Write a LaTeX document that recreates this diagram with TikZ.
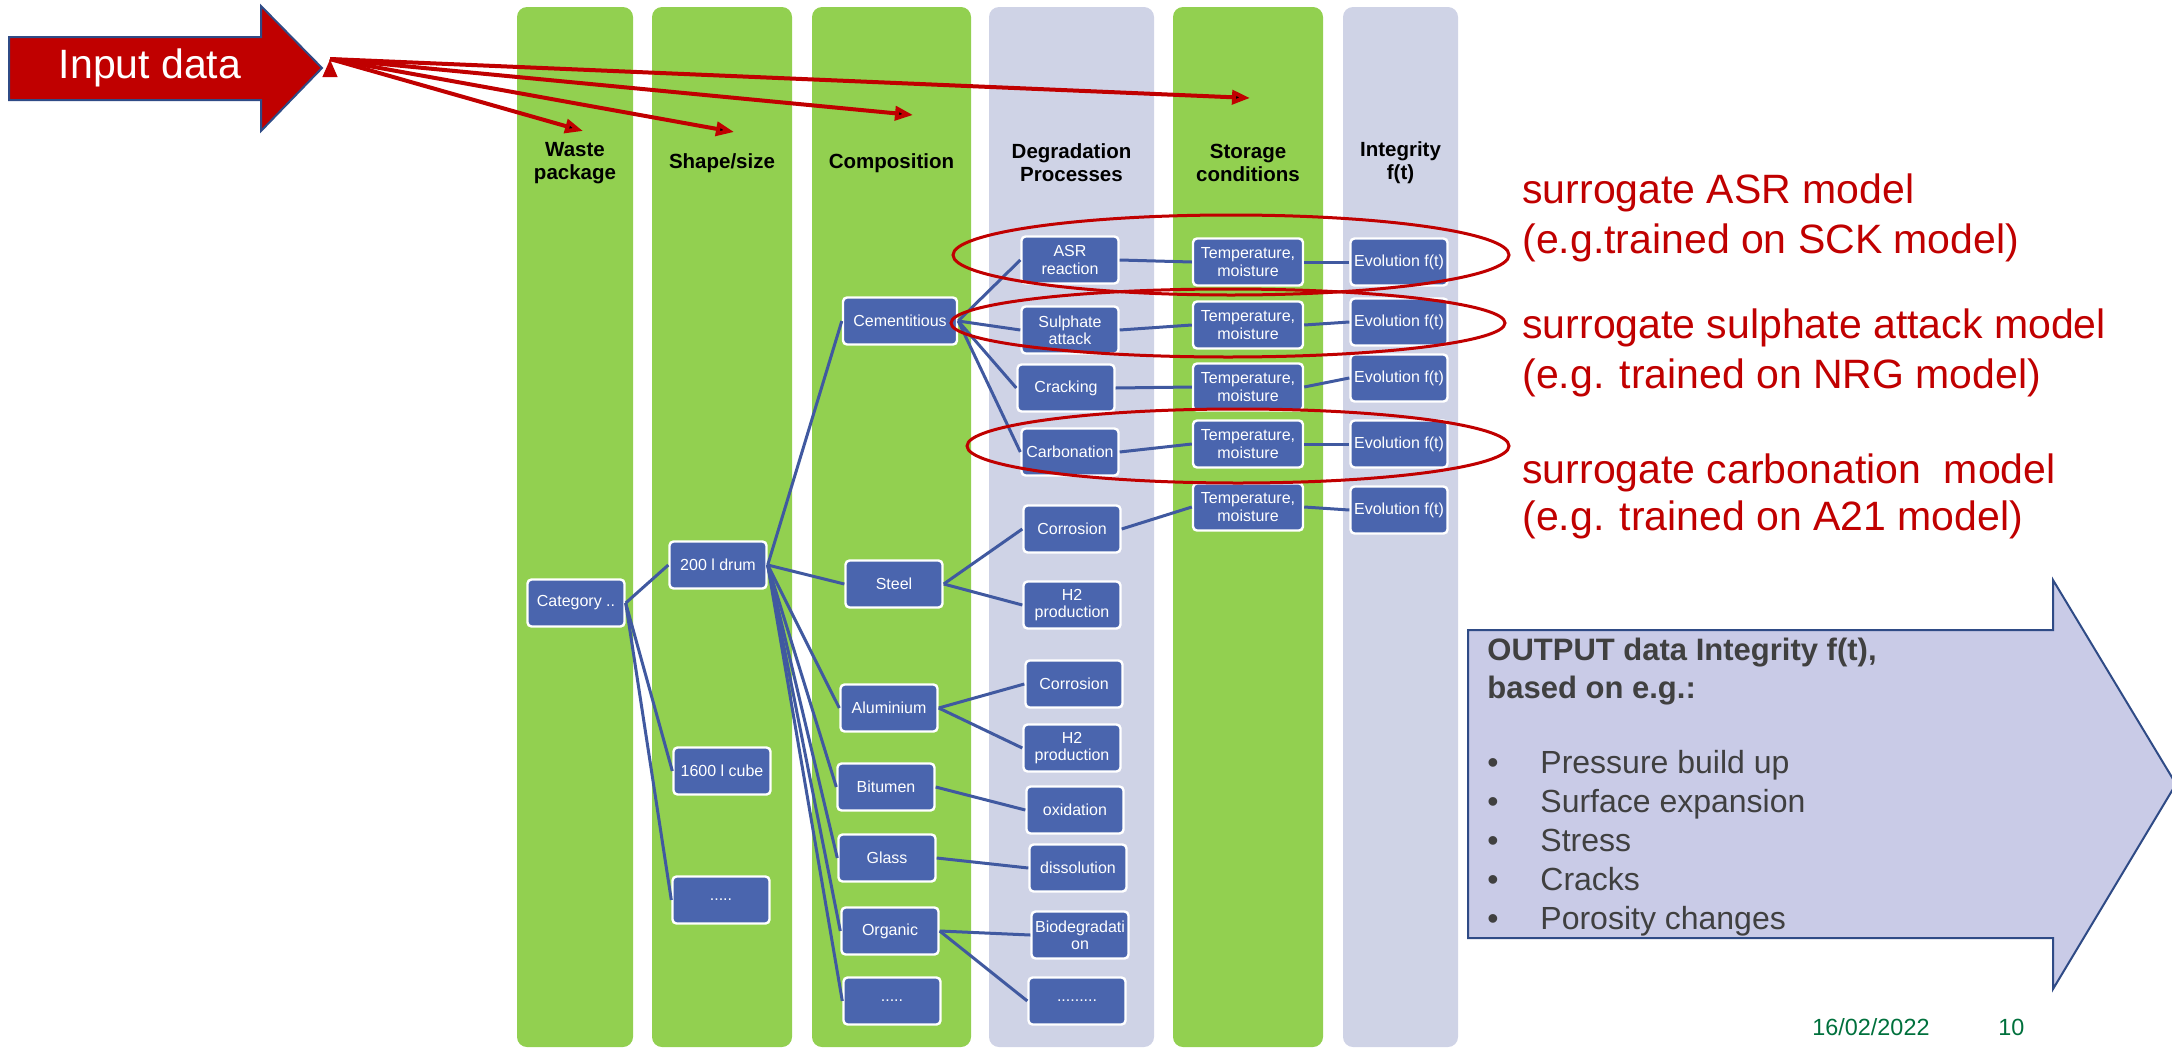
\documentclass[tikz,border=0pt]{standalone}
\usepackage{fontspec}
\setmainfont{Liberation Sans}
\usepackage{xcolor}
\usetikzlibrary{arrows.meta}

\definecolor{colgreen}{HTML}{92D050}
\definecolor{collav}{HTML}{CFD3E6}
\definecolor{boxblue}{HTML}{4A65AE}
\definecolor{linkblue}{HTML}{4059A0}
\definecolor{ringred}{HTML}{C00000}
\definecolor{outfill}{HTML}{C9CBE7}
\definecolor{arrowedge}{HTML}{2F4B86}
\definecolor{txtgrey}{HTML}{404040}
\definecolor{dategreen}{HTML}{00703C}

\begin{document}
\begin{tikzpicture}[x=0.5pt,y=-0.5pt,
  procbox/.style={draw=white,line width=1.2pt,fill=boxblue,rounded corners=2pt,text=white,
    font=\fontsize{8}{8.6}\selectfont,align=center,minimum width=48.5pt,minimum height=23.5pt,inner sep=1pt},
  colhead/.style={font=\bfseries\fontsize{10.25}{11.5}\selectfont,align=center},
  link/.style={draw=linkblue,line width=1.5pt},
  ring/.style={draw=ringred,line width=1.5pt},
  feed/.style={draw=ringred,line width=2pt,-{Triangle[length=9pt,width=7pt]}},
  redtxt/.style={text=ringred,font=\fontsize{20.5}{25}\selectfont,anchor=base west,inner sep=0pt},
  outhead/.style={text=txtgrey,font=\bfseries\fontsize{15.5}{19}\selectfont,anchor=base west,inner sep=0pt},
  outitem/.style={text=txtgrey,font=\fontsize{16}{19}\selectfont,anchor=base west,inner sep=0pt},
  datetxt/.style={text=dategreen,font=\fontsize{11.7}{14}\selectfont,anchor=base west,inner sep=0pt}]
\useasboundingbox (0,0) rectangle (2172,1049);

% columns
\foreach \xa/\xb/\col/\head [count=\i] in {517/633/colgreen/{Waste\\package},
    652/792/colgreen/{Shape/size}, 812/971/colgreen/{Composition},
    989/1154/collav/{Degradation\\Processes}, 1173/1323/colgreen/{Storage\\conditions},
    1343/1458/collav/{Integrity\\f(t)}}
{
  \fill[\col,rounded corners=5pt] (\xa,7) rectangle (\xb,1047);
  \node[colhead] (head\i) at ({(\xa+\xb)/2},163) {\head};
}

% input arrow
\draw[draw=arrowedge,fill=ringred,line width=1pt] (9,37) -- (261,37) -- (261,6) -- (322,68)
  -- (261,131) -- (261,100) -- (9,100) -- cycle;
\node[text=white,font=\fontsize{20.5}{24}\selectfont] (input) at (150,68) {Input data};
\coordinate (src) at (330,59);
\coordinate (aim1) at (583,131);
\coordinate (aim2) at (734,132);
\coordinate (aim3) at (913,115);
\coordinate (aim4) at (1250,98);
\path[feed]
  (src) edge (aim1)
  (src) edge (aim2)
  (src) edge (aim3)
  (src) edge (aim4);

% boxes
\node[procbox] (cat) at (576,603) {Category ..};
\node[procbox] (drum) at (718,565) {200 l drum};
\node[procbox] (cube) at (722,771) {1600 l cube};
\node[procbox] (shdots) at (721,900) {.....};
\node[procbox,minimum width=57pt] (cem) at (900,321) {Cementitious};
\node[procbox] (steel) at (894,584) {Steel};
\node[procbox] (alu) at (889,708) {Aluminium};
\node[procbox] (bit) at (886,787) {Bitumen};
\node[procbox] (glass) at (887,858) {Glass};
\node[procbox] (org) at (890,931) {Organic};
\node[procbox] (cdots) at (892,1001) {.....};
\node[procbox] (asr) at (1070,260) {ASR\\reaction};
\node[procbox] (sul) at (1070,330) {Sulphate\\attack};
\node[procbox] (crack) at (1066,388) {Cracking};
\node[procbox] (carb) at (1070,452) {Carbonation};
\node[procbox] (corr1) at (1072,529) {Corrosion};
\node[procbox] (htwo1) at (1072,605) {H2\\production};
\node[procbox] (corr2) at (1074,684) {Corrosion};
\node[procbox] (htwo2) at (1072,748) {H2\\production};
\node[procbox] (oxi) at (1075,810) {oxidation};
\node[procbox] (diss) at (1078,868) {dissolution};
\node[procbox] (bio) at (1080,935) {Biodegradati\\on};
\node[procbox] (ddots) at (1077,1001) {.........};

\path[link]
  (cat.east) edge (drum.west)
  (cat.east) edge (cube.west)
  (cat.east) edge (shdots.west)
  (drum.east) edge (cem.west)
  (drum.east) edge (steel.west)
  (drum.east) edge (alu.west)
  (drum.east) edge (bit.west)
  (drum.east) edge (glass.west)
  (drum.east) edge (org.west)
  (drum.east) edge (cdots.west)
  (cem.east) edge (asr.west)
  (cem.east) edge (sul.west)
  (cem.east) edge (crack.west)
  (cem.east) edge (carb.west)
  (steel.east) edge (corr1.west)
  (steel.east) edge (htwo1.west)
  (alu.east) edge (corr2.west)
  (alu.east) edge (htwo2.west)
  (bit.east) edge (oxi.west)
  (glass.east) edge (diss.west)
  (org.east) edge (bio.west)
  (org.east) edge (ddots.west);

% storage conditions and integrity
\foreach \src/\ty/\ey [count=\i] in {asr/262/262, sul/325/322, crack/387/378, carb/444/444, corr1/507/510}
{
  \node[procbox,minimum width=55pt] (temp\i) at (1248,\ty) {Temperature,\\moisture};
  \node[procbox] (evo\i) at (1399,\ey) {Evolution f(t)};
  \path[link] (\src.east) edge (temp\i.west) (temp\i.east) edge (evo\i.west);
}

% surrogate models
\draw[ring] (1231,255) ellipse [x radius=139pt,y radius=20pt];
\draw[ring] (1228,323) ellipse [x radius=138.5pt,y radius=17pt];
\draw[ring] (1238,446) ellipse [x radius=135.5pt,y radius=18.5pt];
\foreach \yy/\txt [count=\i] in {203/{surrogate ASR model}, 253/{(e.g.trained on SCK model)},
    338/{surrogate sulphate attack model}, 388/{(e.g. trained on NRG model)},
    483/{surrogate carbonation\ \ model}, 530/{(e.g. trained on A21 model)}}
  \node[redtxt] (note\i) at (1522,\yy) {\txt};

% output arrow
\draw[draw=arrowedge,fill=outfill,line width=1pt] (1468,630) -- (2053,630) -- (2053,580) -- (2176,784)
  -- (2053,989) -- (2053,938) -- (1468,938) -- cycle;
\node[outhead] (outa) at (1487,660) {OUTPUT data Integrity f(t),};
\node[outhead] (outb) at (1487,698) {based on e.g.:};
\foreach \txt [count=\i] in {Pressure build up, Surface expansion, Stress, Cracks, Porosity changes}
{
  \node[outitem] (dot\i) at (1487,{773+39.2*(\i-1)}) {\textbullet};
  \node[outitem] (item\i) at (1540,{773+39.2*(\i-1)}) {\txt};
}

\node[datetxt] (date) at (1812,1035) {16/02/2022};
\node[datetxt] (page) at (1998,1035) {10};
\end{tikzpicture}
\end{document}
